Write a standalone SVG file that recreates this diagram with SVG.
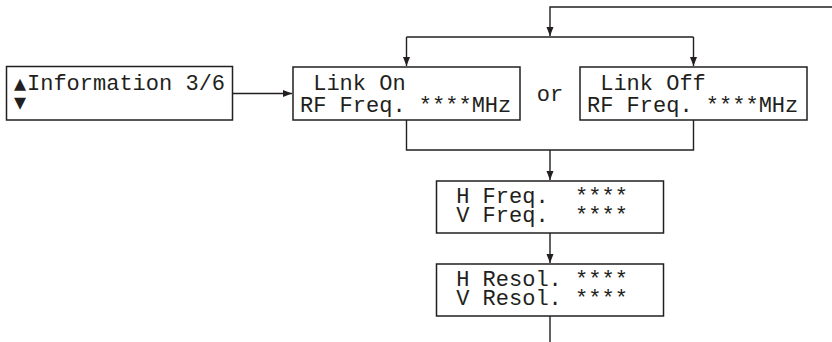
<svg xmlns="http://www.w3.org/2000/svg" width="832" height="342" viewBox="0 0 832 342">
<style>
.box{fill:#fff;stroke:#231f20;stroke-width:1.5}
.t{font-family:"Liberation Mono","DejaVu Sans Mono",monospace;font-size:22px;fill:#231f20;white-space:pre}
.g{font-family:"DejaVu Sans Mono","Liberation Mono",monospace;font-size:20px;fill:#231f20}
.c{fill:none;stroke:#231f20;stroke-width:1.4}
</style>
<defs>
<marker id="ah" markerUnits="userSpaceOnUse" markerWidth="10" markerHeight="8" refX="9" refY="3.5" orient="auto">
<path d="M0,0 L9,3.5 L0,7 z" fill="#231f20"/>
</marker>
</defs>
<g id="connectors">
<line class="c" x1="232" y1="93.5" x2="292" y2="93.5" marker-end="url(#ah)"/>
<polyline class="c" points="832,7 550,7 550,36" marker-end="url(#ah)"/>
<line class="c" x1="406.5" y1="37" x2="693.5" y2="37"/>
<line class="c" x1="406.5" y1="37" x2="406.5" y2="66" marker-end="url(#ah)"/>
<line class="c" x1="693.5" y1="37" x2="693.5" y2="66" marker-end="url(#ah)"/>
<polyline class="c" points="406.5,120 406.5,150 693.5,150 693.5,120"/>
<line class="c" x1="550" y1="150" x2="550" y2="180" marker-end="url(#ah)"/>
<line class="c" x1="550" y1="233" x2="550" y2="263" marker-end="url(#ah)"/>
<line class="c" x1="550" y1="316" x2="550" y2="342"/>
</g>
<g id="info">
<rect class="box" x="6.5" y="66.5" width="226" height="53.5"/>
<text class="t" x="14" y="90"><tspan class="g">▲</tspan><tspan x="27">Information 3/6</tspan></text>
<text class="g" x="14" y="109">▼</text>
</g>
<g id="linkon">
<rect class="box" x="293" y="67" width="227" height="53"/>
<text class="t" x="300" y="90"> Link On</text>
<text class="t" x="300" y="111.5">RF Freq. ****MHz</text>
</g>
<g id="or">
<text class="t" x="550" y="101" text-anchor="middle">or</text>
</g>
<g id="linkoff">
<rect class="box" x="580" y="67" width="227" height="53"/>
<text class="t" x="587" y="90"> Link Off</text>
<text class="t" x="587" y="111.5">RF Freq. ****MHz</text>
</g>
<g id="freq">
<rect class="box" x="436.5" y="181" width="227" height="52"/>
<text class="t" x="443" y="203"> H Freq.  ****</text>
<text class="t" x="443" y="222"> V Freq.  ****</text>
</g>
<g id="resol">
<rect class="box" x="436.5" y="264" width="227" height="52"/>
<text class="t" x="443" y="286"> H Resol. ****</text>
<text class="t" x="443" y="305"> V Resol. ****</text>
</g>
</svg>
